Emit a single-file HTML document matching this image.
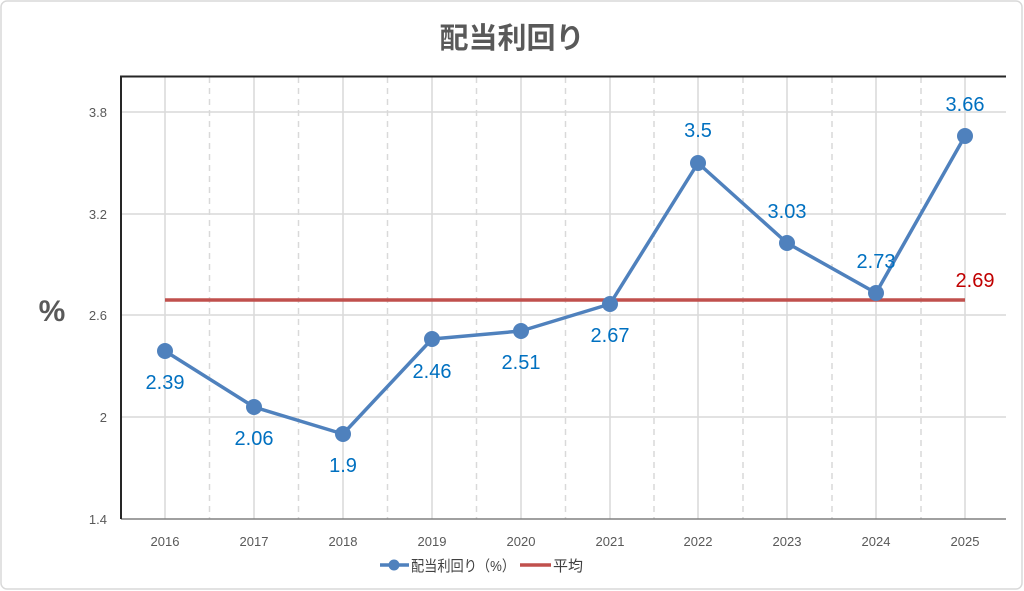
<!DOCTYPE html>
<html><head><meta charset="utf-8"><style>
html,body{margin:0;padding:0;background:#fff}
svg{display:block}
text{font-family:"Liberation Sans","Noto Sans CJK JP",sans-serif}
</style></head><body>
<svg width="1024" height="591" viewBox="0 0 1024 591" xmlns="http://www.w3.org/2000/svg">
<rect x="1" y="1" width="1021" height="588" rx="6" fill="#fff" stroke="#d9d9d9" stroke-width="1.5"/>
<text x="512" y="48" text-anchor="middle" font-size="29" font-weight="bold" fill="#595959">配当利回り</text>
<text x="52" y="321" text-anchor="middle" font-size="30" font-weight="bold" fill="#595959">%</text>
<g stroke="#d9d9d9" stroke-width="1.5">
<line x1="121" y1="112" x2="1006" y2="112"/>
<line x1="121" y1="214" x2="1006" y2="214"/>
<line x1="121" y1="315" x2="1006" y2="315"/>
<line x1="121" y1="417" x2="1006" y2="417"/>
<line x1="165" y1="77" x2="165" y2="519"/><line x1="254" y1="77" x2="254" y2="519"/><line x1="343" y1="77" x2="343" y2="519"/><line x1="432" y1="77" x2="432" y2="519"/><line x1="521" y1="77" x2="521" y2="519"/><line x1="610" y1="77" x2="610" y2="519"/><line x1="698" y1="77" x2="698" y2="519"/><line x1="787" y1="77" x2="787" y2="519"/><line x1="876" y1="77" x2="876" y2="519"/><line x1="965" y1="77" x2="965" y2="519"/>
</g>
<g stroke="#d9d9d9" stroke-width="1.5" stroke-dasharray="6,5">
<line x1="209.5" y1="77" x2="209.5" y2="519"/><line x1="298.5" y1="77" x2="298.5" y2="519"/><line x1="387.5" y1="77" x2="387.5" y2="519"/><line x1="476.5" y1="77" x2="476.5" y2="519"/><line x1="565.5" y1="77" x2="565.5" y2="519"/><line x1="654" y1="77" x2="654" y2="519"/><line x1="743" y1="77" x2="743" y2="519"/><line x1="832" y1="77" x2="832" y2="519"/><line x1="921" y1="77" x2="921" y2="519"/>
</g>
<line x1="121" y1="519" x2="1006" y2="519" stroke="#808080" stroke-width="1.5"/>
<polyline points="121,519 121,76.5 1006,76.5" fill="none" stroke="#262626" stroke-width="2"/>
<g font-size="13" fill="#595959" text-anchor="end">
<text x="107" y="117">3.8</text><text x="107" y="219">3.2</text><text x="107" y="320">2.6</text><text x="107" y="422">2</text><text x="107" y="524">1.4</text>
</g>
<g font-size="13" fill="#595959" text-anchor="middle">
<text x="165" y="546">2016</text><text x="254" y="546">2017</text><text x="343" y="546">2018</text><text x="432" y="546">2019</text><text x="521" y="546">2020</text><text x="610" y="546">2021</text><text x="698" y="546">2022</text><text x="787" y="546">2023</text><text x="876" y="546">2024</text><text x="965" y="546">2025</text>
</g>
<line x1="165" y1="300" x2="965" y2="300" stroke="#c0504d" stroke-width="3.5"/>
<polyline points="165,351 254,407 343,434 432,339 521,331 610,304 698,163 787,243 876,293 965,136" fill="none" stroke="#4f81bd" stroke-width="3.5" stroke-linejoin="round"/>
<g fill="#4f81bd">
<circle cx="165" cy="351" r="8"/><circle cx="254" cy="407" r="8"/><circle cx="343" cy="434" r="8"/><circle cx="432" cy="339" r="8"/><circle cx="521" cy="331" r="8"/><circle cx="610" cy="304" r="8"/><circle cx="698" cy="163" r="8"/><circle cx="787" cy="243" r="8"/><circle cx="876" cy="293" r="8"/><circle cx="965" cy="136" r="8"/>
</g>
<g font-size="20" fill="#0070c0" text-anchor="middle">
<text x="165" y="389">2.39</text><text x="254" y="445">2.06</text><text x="343" y="472">1.9</text><text x="432" y="378">2.46</text><text x="521" y="369">2.51</text><text x="610" y="342">2.67</text><text x="698" y="137">3.5</text><text x="787" y="218">3.03</text><text x="876" y="268">2.73</text><text x="965" y="111">3.66</text>
</g>
<text x="975" y="287" text-anchor="middle" font-size="20" fill="#c00000">2.69</text>
<line x1="380" y1="565" x2="409" y2="565" stroke="#4f81bd" stroke-width="3.5"/>
<circle cx="394" cy="565" r="5.5" fill="#4f81bd"/>
<text x="411" y="571" font-size="15" fill="#404040" textLength="104" lengthAdjust="spacingAndGlyphs">配当利回り（%）</text>
<line x1="520" y1="565" x2="551" y2="565" stroke="#c0504d" stroke-width="3.5"/>
<text x="553" y="571" font-size="15" fill="#404040">平均</text>
</svg>
</body></html>
